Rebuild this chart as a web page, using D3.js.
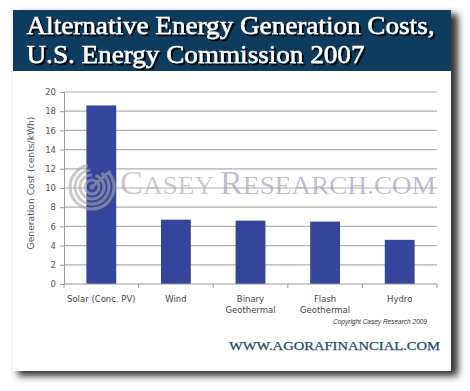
<!DOCTYPE html>
<html><head><meta charset="utf-8">
<script src="https://cdn.jsdelivr.net/npm/d3@7"></script>
<style>html,body{margin:0;padding:0;background:#fff;}svg{display:block;}</style>
</head><body>
<svg id="c" width="470" height="391"></svg>
<script>
const categories = ["Solar (Conc. PV)", "Wind", "Binary\nGeothermal", "Flash\nGeothermal", "Hydro"];
const costs = [18.6, 6.7, 6.6, 6.5, 4.6];
const yTicks = [0, 2, 4, 6, 8, 10, 12, 14, 16, 18, 20];
const titleLines = ["Alternative Energy Generation Costs,", "U.S. Energy Commission 2007"];
const yLabel = "Generation Cost (cents/kWh)";

const svg = d3.select("#c");
const defs = svg.append("defs");
const f = defs.append("filter").attr("id","blur").attr("x","-10%").attr("y","-10%").attr("width","130%").attr("height","130%");
f.append("feGaussianBlur").attr("stdDeviation",3.5);
const ds = defs.append("filter").attr("id","tshadow").attr("x","-5%").attr("y","-20%").attr("width","115%").attr("height","150%");
ds.append("feDropShadow").attr("dx",2).attr("dy",2).attr("stdDeviation",0.4).attr("flood-color","#000").attr("flood-opacity",0.9);

// shadow of card
svg.append("rect").attr("x",18).attr("y",14).attr("width",440).attr("height",362).attr("fill","#333").attr("filter","url(#blur)");
// card
svg.append("rect").attr("x",13).attr("y",10).attr("width",438).attr("height",361).attr("fill","#fff");
// title band
svg.append("rect").attr("x",13).attr("y",10).attr("width",438).attr("height",61).attr("fill","#0d3c5f");
const tl = [{t:titleLines[0], y:34, w:408},{t:titleLines[1], y:63, w:338}];
tl.forEach(d=>{
  svg.append("text").attr("x",26.5).attr("y",d.y).attr("fill","#fff")
    .attr("stroke","#fff").attr("stroke-width",0.45).attr("filter","url(#tshadow)")
    .attr("font-family","Liberation Serif, serif").attr("font-size",25)
    .attr("textLength",d.w).attr("lengthAdjust","spacingAndGlyphs").text(d.t);
});

const m = {l:64, r:437, t:92, b:284};
const x = d3.scaleBand().domain(categories).range([m.l, m.r]).paddingInner(0.6).paddingOuter(0.3);
const y = d3.scaleLinear().domain([0,20]).range([m.b, m.t]);

// gridlines
svg.append("g").selectAll("line").data(yTicks.filter(v=>v>0)).join("line")
  .attr("x1",m.l).attr("x2",m.r).attr("y1",d=>y(d)).attr("y2",d=>y(d))
  .attr("stroke","#b0b0b0").attr("stroke-width",1.2);

// bars
svg.append("g").selectAll("rect").data(costs).join("rect")
  .attr("x",(d,i)=>x(categories[i])).attr("width",x.bandwidth())
  .attr("y",d=>y(d)).attr("height",d=>y(0)-y(d)).attr("fill","#34469c");

// y axis
const ya = svg.append("g").attr("transform",`translate(${m.l},0)`)
  .call(d3.axisLeft(y).tickValues(yTicks).tickSize(4).tickPadding(4));
ya.select(".domain").attr("stroke","#999");
ya.selectAll(".tick line").attr("stroke","#999");
ya.selectAll("text").attr("font-family","DejaVu Sans, Verdana, sans-serif").attr("font-size",8.5).attr("fill","#555");

// x axis
const xa = svg.append("g").attr("transform",`translate(0,${m.b})`);
xa.append("line").attr("x1",m.l).attr("x2",m.r).attr("stroke","#999");
const bounds = d3.range(categories.length+1).map(i=>m.l + i*(m.r-m.l)/categories.length);
xa.selectAll("line.tk").data(bounds).join("line").attr("class","tk")
  .attr("x1",d=>d).attr("x2",d=>d).attr("y1",0).attr("y2",4).attr("stroke","#999");
categories.forEach(c=>{
  const lines = c.split("\n");
  const t = xa.append("text").attr("text-anchor","middle")
    .attr("font-family","DejaVu Sans, Verdana, sans-serif").attr("font-size",8.5).attr("fill","#444");
  lines.forEach((ln,i)=>t.append("tspan").attr("x",x(c)+x.bandwidth()/2).attr("y",18+i*11).text(ln));
});

// y label
svg.append("text").attr("transform","translate(34,183) rotate(-90)").attr("text-anchor","middle")
  .attr("font-family","DejaVu Sans, Verdana, sans-serif").attr("font-size",9.2).attr("fill","#555").text(yLabel);

// copyright
svg.append("text").attr("x",427).attr("y",324).attr("text-anchor","end")
  .attr("font-family","Liberation Sans, Arial, sans-serif").attr("font-style","italic").attr("font-size",6.5).attr("fill","#333")
  .text("Copyright Casey Research 2009");

// footer
svg.append("text").attr("x",229).attr("y",350).attr("fill","#1d4a6e")
  .attr("stroke","#1d4a6e").attr("stroke-width",0.25)
  .attr("font-family","Liberation Serif, serif").attr("font-size",12.5)
  .attr("textLength",211).attr("lengthAdjust","spacingAndGlyphs").text("WWW.AGORAFINANCIAL.COM");

// watermark
const wm = svg.append("g").attr("opacity",0.6);
const cx=92, cy=187;
[22,17,12,7].forEach((r,i)=>{
  const arc = d3.arc().innerRadius(r-1.6).outerRadius(r+1.6).startAngle(0.9 - i*0.3).endAngle(2*Math.PI - 0.2 + i*0.1);
  wm.append("path").attr("d",arc()).attr("transform",`translate(${cx},${cy})`).attr("fill","#aaa");
});
wm.append("circle").attr("cx",cx).attr("cy",cy).attr("r",2.5).attr("fill","#aaa");
wm.append("line").attr("x1",cx).attr("y1",cy).attr("x2",cx+18).attr("y2",cy-16).attr("stroke","#aaa").attr("stroke-width",2.5);
const wt = wm.append("text").attr("x",120).attr("y",194).attr("font-family","Liberation Serif, serif")
  .attr("textLength",316).attr("lengthAdjust","spacingAndGlyphs");
wt.append("tspan").attr("font-size",33).attr("fill","#a8a8a8").text("C");
wt.append("tspan").attr("font-size",26).attr("fill","#a8a8a8").text("ASEY ");
wt.append("tspan").attr("font-size",33).attr("fill","#9494ba").text("R");
wt.append("tspan").attr("font-size",26).attr("fill","#9494ba").text("ESEARCH.COM");
</script>
</body></html>
